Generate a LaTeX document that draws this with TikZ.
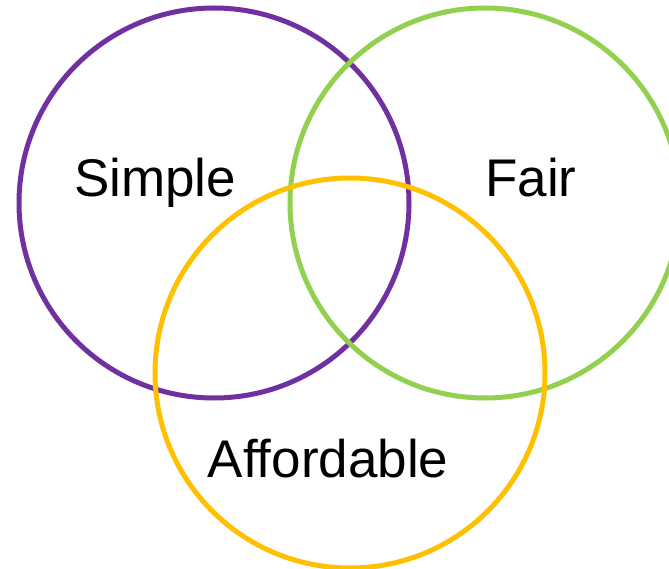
\documentclass[tikz,border=0pt]{standalone}
\usepackage{fontspec}
\setmainfont[Ligatures={NoCommon}]{Liberation Sans}
\definecolor{vpurple}{HTML}{7030A0}
\definecolor{vgreen}{HTML}{92D050}
\definecolor{vyellow}{HTML}{FFC000}
\begin{document}
\begin{tikzpicture}[x=1pt,y=-1pt,
  ring/.style={line width=5pt},
  lbl/.style={font=\fontsize{53}{60}\selectfont, anchor=base, inner sep=0pt}]
  \clip (0,0) rectangle (669,569);
  \useasboundingbox (0,0) rectangle (669,569);
  \fill[white] (0,0) rectangle (669,569);
  % the three sets
  \draw[ring, vpurple] (214,203) circle[radius=195];
  \draw[ring, vgreen] (485,203) circle[radius=195];
  \draw[ring, vyellow] (350,373) circle[radius=195];
  % set labels
  \node[lbl] (simple) at (155,197) {Simple};
  \node[lbl] (fair) at (531,197) {Fair};
  \node[lbl] (afford) at (328,477) {Affordable};
\end{tikzpicture}
\end{document}
